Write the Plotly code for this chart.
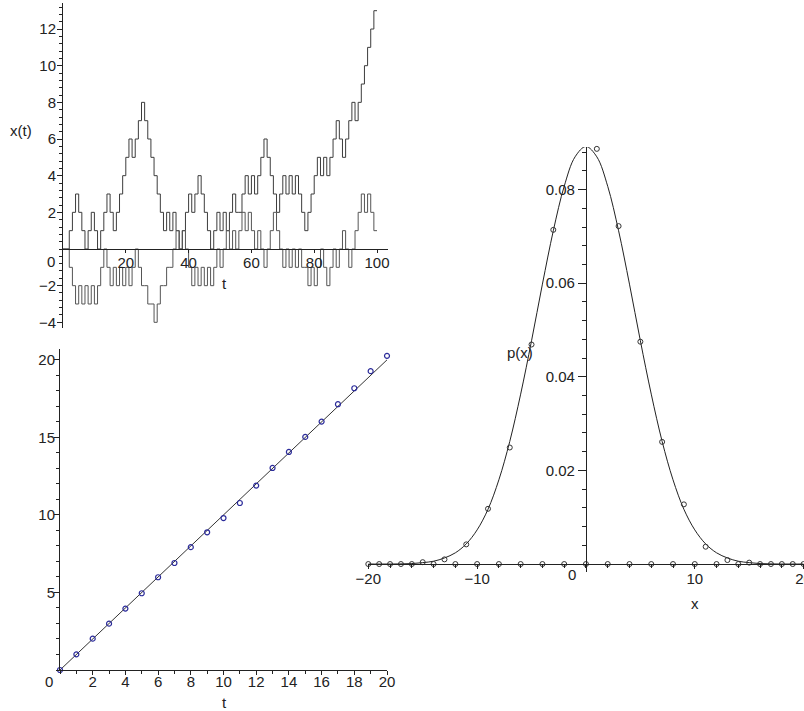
import plotly.graph_objects as go

W, H = 804, 711

# ---------- data: top-left random walks (value held on [t, t+1), t = 0..100) ----------
walk_up = [0, 0, 1, 2, 3, 2, 1, 0, 1, 2,
           1, 0, 1, 2, 3, 2, 1, 2, 3, 4,
           5, 6, 5, 6, 7, 8, 7, 6, 5, 4,
           3, 2, 1, 2, 1, 2, 1, 0, 1, 2,
           3, 2, 3, 4, 3, 2, 1, 0, 1, 2,
           1, 2, 1, 2, 3, 2, 2, 3, 4, 3,
           4, 3, 4, 5, 6, 5, 4, 3, 2, 3,
           4, 3, 4, 3, 4, 3, 2, 1, 2, 3,
           4, 5, 4, 5, 4, 5, 6, 7, 6, 5,
           6, 7, 8, 7, 8, 9, 10, 11, 12, 13,
           13]
walk_low = [0, 0, -1, -2, -3, -2, -3, -2, -3, -2,
            -3, -2, -1, 0, -1, -2, -1, -2, -1, -2,
            -1, -2, -1, 0, -1, -2, -2, -3, -3, -4,
            -3, -2, -2, -1, -1, 0, 1, 0, 1, 0,
            -1, -2, -1, -2, -1, -2, -1, -2, -1, 0,
            -1, 0, 1, 0, 1, 0, 1, 2, 1, 2,
            1, 0, 1, 0, -1, 0, 1, 2, 1, 0,
            -1, 0, -1, 0, -1, 0, -1, -1, -2, -1,
            -2, -1, 0, -1, -2, -1, 0, -1, 0, 1,
            0, -1, 0, 1, 2, 3, 2, 3, 2, 1,
            1]

# ---------- data: bottom-left mean square displacement ----------
t_msd = list(range(0, 21))
msd = [0, 1.01, 2.02, 2.99, 3.96, 4.95, 5.98, 6.9, 7.92, 8.88, 9.8, 10.77, 11.89,
       13.03, 14.06, 15.03, 16.02, 17.14, 18.17, 19.27, 20.26]
line_t = [0, 20]
line_v = [0, 20]

# ---------- data: right distribution ----------
x_emp = list(range(-20, 21))
p_emp = [0, 0, 0, 0, 0, 0.0004, 0, 0.001, 0, 0.0042, 0, 0.0118, 0, 0.0249, 0, 0.0469, 0, 0.0714, 0, 0.0895, 0,
         0.0887, 0, 0.0722, 0, 0.0475, 0, 0.0261, 0, 0.01275, 0, 0.0037, 0, 0.00085, 0, 0.0003, 0, 0, 0, 0, 0]
x_curve = list(range(-20, 21))
p_curve = [0.0, 0.0, 0.0, 0.00003, 0.0001, 0.0003, 0.0006, 0.0013, 0.0024, 0.0043, 0.0073, 0.0117,
           0.0180, 0.0262, 0.0363, 0.0477, 0.0598, 0.0712, 0.0807, 0.0870, 0.0892, 0.0870, 0.0807,
           0.0712, 0.0598, 0.0477, 0.0363, 0.0262, 0.0180, 0.0117, 0.0073, 0.0043, 0.0024, 0.0013,
           0.0006, 0.0003, 0.0001, 0.00003, 0.0, 0.0, 0.0]

FONT = "Liberation Sans, Arial, sans-serif"
INK = "#222222"

fig = go.Figure()

for w, col in ((walk_up, "#3c3c3c"), (walk_low, "#555555")):
    fig.add_trace(go.Scatter(x=list(range(len(w))), y=w, mode="lines", line=dict(color=col, width=1, shape="hv"),
                             xaxis="x", yaxis="y", showlegend=False))

fig.add_trace(go.Scatter(x=line_t, y=line_v, mode="lines", line=dict(color="#333333", width=1),
                         xaxis="x2", yaxis="y2", showlegend=False))
fig.add_trace(go.Scatter(x=t_msd, y=msd, mode="markers",
                         marker=dict(symbol="circle-open", size=5, color="#2b2b9a", line=dict(width=1.2)),
                         xaxis="x2", yaxis="y2", showlegend=False, cliponaxis=False))

fig.add_trace(go.Scatter(x=x_curve, y=p_curve, mode="lines", line=dict(color="#222222", width=1, shape="spline", smoothing=1.0),
                         xaxis="x3", yaxis="y3", showlegend=False))
fig.add_trace(go.Scatter(x=x_emp, y=p_emp, mode="markers",
                         marker=dict(symbol="circle-open", size=5, color="#333333", line=dict(width=1)),
                         xaxis="x3", yaxis="y3", showlegend=False, cliponaxis=False))

def px_x(p):
    return p / W

def px_y(p):
    return 1 - p / H

# top-left geometry
yr1 = [-4.31, 13.42]
yd1 = [px_y(328), px_y(3)]
pos1 = yd1[0] + (0 - yr1[0]) / (yr1[1] - yr1[0]) * (yd1[1] - yd1[0])
# right geometry
xr3 = [-20, 20]
xd3 = [px_x(368.3), px_x(803.6)]
yr3 = [-0.0017, 0.0891]
yd3 = [px_y(572), px_y(147)]
pos3x = yd3[0] + (0 - yr3[0]) / (yr3[1] - yr3[0]) * (yd3[1] - yd3[0])
pos3y = xd3[0] + (0 - xr3[0]) / (xr3[1] - xr3[0]) * (xd3[1] - xd3[0])

tickfont = dict(family=FONT, size=15, color=INK)
common = dict(showline=True, linecolor=INK, linewidth=1, ticks="outside", tickcolor=INK, tickwidth=1,
              showgrid=False, zeroline=False, tickfont=tickfont, fixedrange=True, automargin=False,
              ticklabeloverflow="allow")

fig.update_layout(
    width=W, height=H, margin=dict(l=0, r=0, t=0, b=0), autosize=False,
    paper_bgcolor="white", plot_bgcolor="rgba(0,0,0,0)",
    xaxis=dict(domain=[px_x(63), px_x(388)], range=[0, 103.5], anchor="free", position=pos1,
               tickvals=[20, 40, 60, 80, 100], ticklen=3, ticklabelstandoff=-3, **common),
    yaxis=dict(domain=yd1, range=yr1, anchor="x", tickvals=[-4, -2, 2, 4, 6, 8, 10, 12], ticklen=5,
               ticklabelstandoff=-2,
               minor=dict(ticks="outside", dtick=0.4, ticklen=3, tickcolor=INK), **common),
    xaxis2=dict(domain=[px_x(60), px_x(387)], range=[0, 20], anchor="y2",
                tickvals=[2, 4, 6, 8, 10, 12, 14, 16, 18, 20], ticklen=4, ticklabelstandoff=-6,
                minor=dict(ticks="outside", dtick=1, ticklen=3, tickcolor=INK), **common),
    yaxis2=dict(domain=[px_y(670), px_y(349)], range=[0, 20.7], anchor="x2", tickvals=[5, 10, 15, 20], ticklen=5,
                ticklabelstandoff=-4,
                minor=dict(ticks="outside", dtick=1, ticklen=3, tickcolor=INK), **common),
    xaxis3=dict(domain=xd3, range=xr3, anchor="free", position=pos3x, tickvals=[-20, -10, 10, 20], ticklen=4,
                ticklabelstandoff=-3,
                minor=dict(ticks="outside", dtick=2, ticklen=3, tickcolor=INK), **common),
    yaxis3=dict(domain=yd3, range=yr3, anchor="free", position=pos3y, tickvals=[0.02, 0.04, 0.06, 0.08],
                tickformat=".2f", ticklen=8,
                minor=dict(ticks="outside", dtick=0.004, ticklen=4, tickcolor=INK), **common),
)

ann_font = dict(family=FONT, size=15, color=INK)
annotations = [
    dict(text="0", xref="x", yref="y", x=0, y=0, xanchor="right", yanchor="top", xshift=-6, yshift=-2),
    dict(text="0", xref="x2", yref="y2", x=0, y=0, xanchor="right", yanchor="top", xshift=-5, yshift=-1),
    dict(text="0", xref="x3", yref="y3", x=0, y=0, xanchor="right", yanchor="top", xshift=-8, yshift=0),
    dict(text="t", xref="paper", yref="paper", x=px_x(225), y=px_y(283), xanchor="center", yanchor="middle"),
    dict(text="x(t)", xref="paper", yref="paper", x=px_x(20.5), y=px_y(130), xanchor="center", yanchor="middle"),
    dict(text="t", xref="paper", yref="paper", x=px_x(224), y=px_y(702), xanchor="center", yanchor="middle"),
    dict(text="x", xref="paper", yref="paper", x=px_x(695), y=px_y(603), xanchor="center", yanchor="middle"),
    dict(text="p(x)", xref="paper", yref="paper", x=px_x(520), y=px_y(352), xanchor="center", yanchor="middle"),
]
for a in annotations:
    a.update(showarrow=False, font=ann_font)
fig.update_layout(annotations=annotations)

fig.write_html("out.html")
